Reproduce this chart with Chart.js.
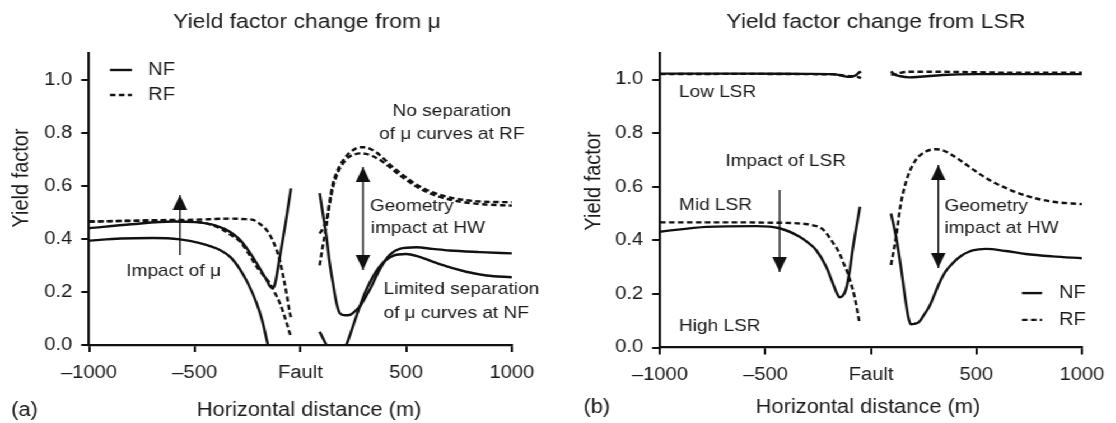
<!DOCTYPE html>
<html>
<head>
<meta charset="utf-8">
<script src="https://cdn.jsdelivr.net/npm/chart.js@4.4.0/dist/chart.umd.min.js"></script>
<style>
  html, body { margin: 0; padding: 0; background: #fff; overflow: hidden; }
  /* the source figure is a little wider than tall, so the whole drawing is stretched */
  #wrap { position: absolute; left: 0; top: 0; width: 996px; height: 423px;
          transform: scaleX(1.12); transform-origin: 0 0; }
  #chartA { position: absolute; left: 0; top: 0; }
  #chartB { position: absolute; left: 498px; top: 0; }
</style>
</head>
<body>
<div id="wrap">
  <canvas id="chartA" width="498" height="423"></canvas>
  <canvas id="chartB" width="498" height="423"></canvas>
</div>
<script>
// Axis ticks
const X_TICKS = [-1000, -500, 0, 500, 1000];
const Y_TICKS = [0, 0.2, 0.4, 0.6, 0.8, 1.0];

// (a) effect of mu - footwall side [x, y]
const A_NF_HI_FW = [[-1000,0.44],[-800,0.455],[-600,0.465],[-500,0.463],[-400,0.45],[-330,0.425],[-286,0.396],[-250,0.36],[-207,0.308],[-175,0.265],[-160,0.245],[-145,0.222],[-133,0.215],[-122,0.225],[-100,0.32],[-70,0.46],[-45,0.59]];
const A_NF_LO_FW = [[-1000,0.393],[-850,0.401],[-700,0.403],[-570,0.398],[-480,0.385],[-381,0.358],[-330,0.33],[-286,0.285],[-250,0.235],[-207,0.157],[-180,0.09],[-154,0.0],[-140,-0.05]];
const A_RF_1_FW = [[-1000,0.465],[-700,0.47],[-500,0.472],[-333,0.476],[-260,0.474],[-223,0.471],[-190,0.455],[-160,0.433],[-135,0.40],[-113,0.358],[-95,0.31],[-81,0.257],[-65,0.19],[-50,0.12],[-45,0.105]];
const A_RF_2_FW = [[-1000,0.465],[-700,0.468],[-500,0.465],[-440,0.457],[-381,0.44],[-330,0.415],[-286,0.39],[-250,0.35],[-207,0.295],[-175,0.262],[-144,0.232],[-120,0.195],[-97,0.157],[-80,0.12],[-65,0.082],[-45,0.03]];
// (a) hanging wall side
const A_NF_HI_HW = [[91,0.572],[105,0.50],[123,0.408],[138,0.31],[154,0.232],[170,0.16],[186,0.12],[210,0.112],[232,0.113],[255,0.125],[280,0.144],[327,0.207],[374,0.283],[421,0.339],[469,0.362],[548,0.368],[625,0.362],[705,0.356],[850,0.35],[1000,0.345]];
const A_NF_LO_HW = [[91,0.05],[123,0.0],[150,-0.04],[190,-0.04],[217,0.0],[264,0.107],[311,0.207],[374,0.295],[437,0.336],[500,0.343],[560,0.333],[626,0.314],[700,0.294],[784,0.276],[880,0.262],[1000,0.255]];
const A_RF_1_HW = [[91,0.30],[105,0.37],[123,0.45],[138,0.54],[154,0.61],[170,0.648],[186,0.675],[210,0.705],[232,0.724],[255,0.737],[280,0.745],[300,0.745],[327,0.74],[360,0.725],[390,0.705],[430,0.675],[469,0.65],[548,0.605],[626,0.575],[705,0.556],[780,0.546],[863,0.54],[1000,0.538]];
const A_RF_2_HW = [[91,0.42],[107,0.44],[123,0.47],[138,0.53],[154,0.595],[170,0.635],[186,0.665],[210,0.693],[232,0.71],[255,0.718],[280,0.722],[310,0.72],[340,0.712],[390,0.69],[430,0.665],[469,0.64],[548,0.597],[626,0.567],[705,0.548],[780,0.537],[863,0.53],[1000,0.525]];

// (b) effect of LSR - low LSR
const B_NF_LOW_FW = [[-1000,1.022],[-600,1.022],[-300,1.021],[-181,1.02],[-140,1.015],[-110,1.01],[-85,1.012],[-70,1.017],[-58,1.025],[-47,1.03]];
const B_RF_LOW_FW = [[-1000,1.02],[-600,1.021],[-300,1.02],[-181,1.019],[-140,1.016],[-110,1.013],[-85,1.012],[-65,1.01],[-47,1.005]];
const B_NF_LOW_HW = [[95,1.03],[110,1.02],[140,1.012],[182,1.008],[230,1.01],[339,1.017],[500,1.02],[700,1.02],[1000,1.02]];
const B_RF_LOW_HW = [[95,1.018],[115,1.02],[140,1.025],[182,1.029],[285,1.029],[500,1.027],[700,1.025],[1000,1.025]];
// (b) mid LSR
const B_NF_MID_FW = [[-1000,0.432],[-779,0.45],[-543,0.453],[-433,0.445],[-338,0.413],[-300,0.392],[-260,0.364],[-212,0.301],[-181,0.24],[-160,0.2],[-149,0.187],[-135,0.192],[-119,0.215],[-100,0.29],[-87,0.364],[-52,0.525]];
const B_RF_MID_FW = [[-1000,0.467],[-700,0.467],[-500,0.466],[-310,0.461],[-270,0.455],[-246,0.45],[-220,0.435],[-199,0.413],[-175,0.385],[-149,0.351],[-130,0.315],[-110,0.277],[-78,0.19],[-55,0.096]];
const B_NF_MID_HW = [[95,0.50],[119,0.413],[142,0.30],[166,0.165],[178,0.11],[189,0.087],[205,0.088],[229,0.096],[250,0.12],[276,0.152],[300,0.195],[324,0.24],[355,0.285],[387,0.314],[430,0.343],[482,0.362],[545,0.368],[640,0.36],[734,0.349],[860,0.34],[1000,0.333]];
const B_RF_MID_HW = [[95,0.308],[119,0.413],[142,0.538],[174,0.637],[213,0.70],[260,0.731],[308,0.74],[340,0.736],[370,0.725],[420,0.70],[465,0.675],[520,0.645],[575,0.619],[640,0.595],[702,0.575],[780,0.557],[859,0.544],[1000,0.535]];

const INK = '#111';
const TEXT = '#1a1a1a';
const FONT = '"Liberation Sans", Arial, sans-serif';

function curve(pts, dashed) {
    return {
        data: pts.map(([x, y]) => ({ x, y })),
        borderColor: INK,
        borderWidth: 2.4,
        borderDash: dashed ? [5, 3] : [],
        pointRadius: 0,
        cubicInterpolationMode: 'monotone',
        fill: false
    };
}

function tickLabel(v) {
    if (v === 0) return 'Fault';
    return v < 0 ? '\u2013' + Math.abs(v) : String(v);
}

function makeScales(yWidth, xHeight) {
    const grid = { drawOnChartArea: false, drawTicks: true, tickLength: 7, color: INK, lineWidth: 2 };
    const border = { display: true, color: INK, width: 2.2 };
    return {
        x: {
            type: 'linear', min: -1000, max: 1000,
            afterBuildTicks: s => { s.ticks = X_TICKS.map(v => ({ value: v })); },
            afterFit: s => { s.height = xHeight; },
            grid, border,
            ticks: { color: TEXT, font: { family: FONT, size: 18 }, padding: 10, maxRotation: 0, autoSkip: false, callback: tickLabel }
        },
        y: {
            type: 'linear', min: 0, max: 1.1,
            afterBuildTicks: s => { s.ticks = Y_TICKS.map(v => ({ value: v })); },
            afterFit: s => { s.width = yWidth; },
            grid, border,
            ticks: { color: TEXT, font: { family: FONT, size: 18 }, padding: 8, callback: v => v.toFixed(1) }
        }
    };
}

// arrow with filled heads, x/y in data units
function drawArrow(ctx, x, y0, y1, both) {
    const hw = 6.5, hh = 15;
    const dir = y1 < y0 ? -1 : 1;
    ctx.save();
    ctx.strokeStyle = INK;
    ctx.fillStyle = INK;
    ctx.lineWidth = 1.4;
    ctx.beginPath();
    ctx.moveTo(x, y0);
    ctx.lineTo(x, y1);
    ctx.stroke();
    const head = (tipY, d) => {
        ctx.beginPath();
        ctx.moveTo(x, tipY);
        ctx.lineTo(x - hw, tipY - d * hh);
        ctx.lineTo(x + hw, tipY - d * hh);
        ctx.closePath();
        ctx.fill();
    };
    head(y1, dir);
    if (both) head(y0, -dir);
    ctx.restore();
}

// titles, notes, arrows and legend
function decor(spec) {
    return {
        id: 'decor',
        afterDraw(chart) {
            const { ctx } = chart;
            const sx = chart.scales.x, sy = chart.scales.y;
            const px = v => sx.getPixelForValue(v), py = v => sy.getPixelForValue(v);
            ctx.save();
            ctx.fillStyle = TEXT;

            ctx.font = '20.5px ' + FONT;
            ctx.textAlign = 'center';
            ctx.textBaseline = 'alphabetic';
            ctx.fillText(spec.title.text, spec.title.x, spec.title.y);

            ctx.font = '19.5px ' + FONT;
            ctx.fillText(spec.xTitle.text, spec.xTitle.x, spec.xTitle.y);
            ctx.textAlign = 'left';
            ctx.fillText(spec.tag.text, spec.tag.x, spec.tag.y);

            ctx.save();
            ctx.translate(spec.yTitle.x, spec.yTitle.y);
            ctx.rotate(-Math.PI / 2);
            ctx.textAlign = 'center';
            ctx.textBaseline = 'middle';
            ctx.font = '20px ' + FONT;
            ctx.fillText(spec.yTitle.text, 0, 0);
            ctx.restore();

            ctx.font = '17px ' + FONT;
            ctx.textBaseline = 'middle';
            spec.notes.forEach(n => {
                ctx.textAlign = n.align;
                ctx.fillText(n.text, px(n.x), py(n.y));
            });

            spec.arrows.forEach(a => drawArrow(ctx, px(a.x), py(a.y0), py(a.y1), a.both));

            const lg = spec.legend;
            ctx.font = '18px ' + FONT;
            ctx.textAlign = 'left';
            lg.rows.forEach(r => {
                ctx.save();
                ctx.strokeStyle = INK;
                ctx.lineWidth = 2.4;
                ctx.setLineDash(r.dashed ? [5, 3] : []);
                ctx.beginPath();
                ctx.moveTo(px(lg.x0), py(r.y));
                ctx.lineTo(px(lg.x1), py(r.y));
                ctx.stroke();
                ctx.restore();
                ctx.fillText(r.label, px(lg.xt), py(r.y));
            });
            ctx.restore();
        }
    };
}

const SPEC_A = {
    title: { text: 'Yield factor change from \u03bc', x: 274, y: 28 },
    xTitle: { text: 'Horizontal distance (m)', x: 276, y: 416 },
    yTitle: { text: 'Yield factor', x: 19, y: 178 },
    tag: { text: '(a)', x: 10, y: 416 },
    notes: [
        { text: 'Impact of \u03bc', x: -600, y: 0.277, align: 'center' },
        { text: 'No separation', x: 716, y: 0.882, align: 'center' },
        { text: 'of \u03bc curves at RF', x: 716, y: 0.795, align: 'center' },
        { text: 'Geometry', x: 329, y: 0.524, align: 'left' },
        { text: 'impact at HW', x: 333, y: 0.441, align: 'left' },
        { text: 'Limited separation', x: 393, y: 0.209, align: 'left' },
        { text: 'of \u03bc curves at NF', x: 393, y: 0.121, align: 'left' }
    ],
    arrows: [
        { x: -570, y0: 0.339, y1: 0.565, both: false },
        { x: 296, y0: 0.283, y1: 0.671, both: true }
    ],
    legend: { x0: -901, x1: -797, xt: -721, rows: [ { label: 'NF', y: 1.036, dashed: false }, { label: 'RF', y: 0.942, dashed: true } ] }
};

const SPEC_B = {
    title: { text: 'Yield factor change from LSR', x: 284, y: 28 },
    xTitle: { text: 'Horizontal distance (m)', x: 277, y: 413 },
    yTitle: { text: 'Yield factor', x: 32, y: 181 },
    tag: { text: '(b)', x: 23, y: 413 },
    notes: [
        { text: 'Low LSR', x: -910, y: 0.951, align: 'left' },
        { text: 'Impact of LSR', x: -404, y: 0.693, align: 'center' },
        { text: 'Mid LSR', x: -910, y: 0.529, align: 'left' },
        { text: 'High LSR', x: -910, y: 0.078, align: 'left' },
        { text: 'Geometry', x: 348, y: 0.528, align: 'left' },
        { text: 'impact at HW', x: 348, y: 0.446, align: 'left' }
    ],
    arrows: [
        { x: -433, y0: 0.588, y1: 0.282, both: false },
        { x: 319, y0: 0.297, y1: 0.681, both: true }
    ],
    legend: { x0: 716, x1: 811, xt: 891, rows: [ { label: 'NF', y: 0.203, dashed: false }, { label: 'RF', y: 0.103, dashed: true } ] }
};

function build(id, datasets, spec, pad, yWidth, xHeight) {
    new Chart(document.getElementById(id), {
        type: 'line',
        data: { datasets },
        options: {
            responsive: false,
            animation: false,
            parsing: true,
            layout: { padding: pad },
            scales: makeScales(yWidth, xHeight),
            plugins: { legend: { display: false }, tooltip: { enabled: false }, title: { display: false } }
        },
        plugins: [decor(spec)]
    });
}

build('chartA', [
    curve(A_NF_HI_FW, false), curve(A_NF_LO_FW, false),
    curve(A_RF_1_FW, true), curve(A_RF_2_FW, true),
    curve(A_NF_HI_HW, false), curve(A_NF_LO_HW, false),
    curve(A_RF_1_HW, true), curve(A_RF_2_HW, true)
], SPEC_A, { top: 53, right: 41, left: 0, bottom: 0 }, 79.5, 78);

build('chartB', [
    curve(B_NF_LOW_FW, false), curve(B_RF_LOW_FW, true),
    curve(B_NF_LOW_HW, false), curve(B_RF_LOW_HW, true),
    curve(B_NF_MID_FW, false), curve(B_RF_MID_FW, true),
    curve(B_NF_MID_HW, false), curve(B_RF_MID_HW, true)
], SPEC_B, { top: 52.7, right: 29, left: 0, bottom: 0 }, 91.3, 75.5);
</script>
</body>
</html>
